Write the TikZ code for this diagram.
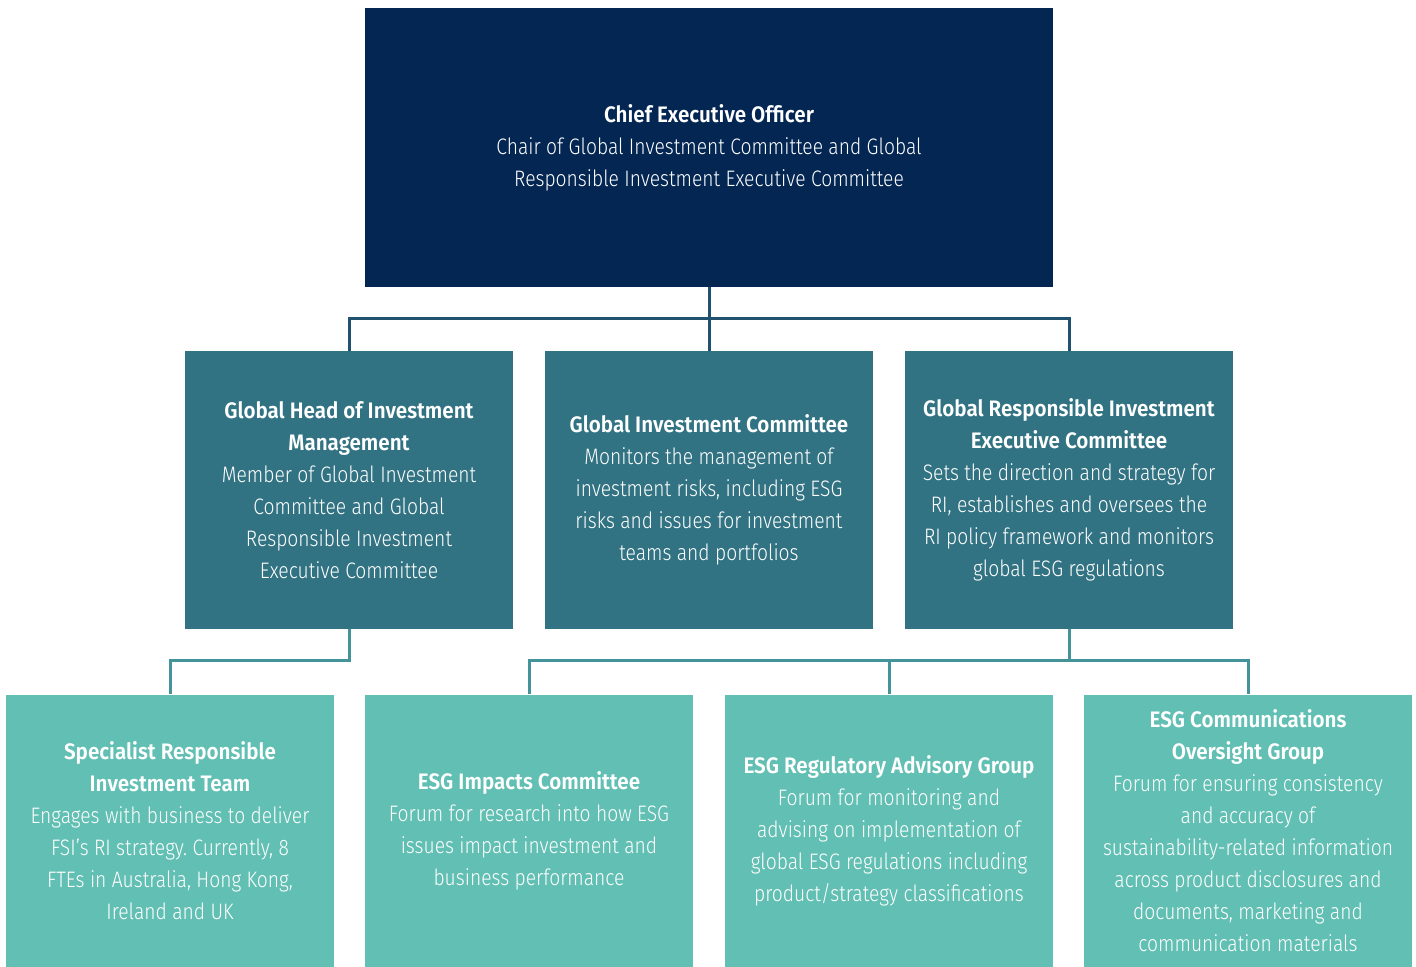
\documentclass[tikz,border=0pt]{standalone}
\usepackage{fontspec}
\setmainfont{Fira Sans}[
  UprightFont = * Light,
  BoldFont = * SemiBold,
  UprightFeatures = {FakeStretch = 0.86},
  BoldFeatures = {FakeStretch = 0.92}]
\frenchspacing
\definecolor{navy}{RGB}{3,38,83}
\definecolor{midteal}{RGB}{50,115,131}
\definecolor{lightteal}{RGB}{98,191,179}
\definecolor{topline}{RGB}{32,82,112}
\definecolor{lowline}{RGB}{66,148,154}
\tikzset{
  box/.style={inner sep=0pt, align=center, text=white,
    font=\fontsize{11.2}{16}\selectfont},
  ceobox/.style={box, fill=navy, minimum width=344pt, minimum height=139.5pt},
  midbox/.style={box, fill=midteal, minimum width=164pt, minimum height=139pt},
  lowbox/.style={box, fill=lightteal, minimum width=164pt, minimum height=136.5pt},
  conn/.style={line width=1.5pt},
}
\begin{document}
\begin{tikzpicture}[x=0.5pt,y=-0.5pt]
\useasboundingbox (0,0) rectangle (1416,966);

% top level
\node[ceobox] (ceo) at (709,147.5) {\textbf{Chief Executive Officer}\\
  Chair of Global Investment Committee and Global\\
  Responsible Investment Executive Committee};

% second level
\node[midbox] (gh) at (349,490) {\textbf{Global Head of Investment}\\
  \textbf{Management}\\
  Member of Global Investment\\
  Committee and Global\\
  Responsible Investment\\
  Executive Committee};
\node[midbox] (gic) at (709,490) {\textbf{Global Investment Committee}\\
  Monitors the management of\\
  investment risks, including ESG\\
  risks and issues for investment\\
  teams and portfolios};
\node[midbox] (grie) at (1069,490) {\textbf{Global Responsible Investment}\\
  \textbf{Executive Committee}\\
  Sets the direction and strategy for\\
  RI, establishes and oversees the\\
  RI policy framework and monitors\\
  global ESG regulations};

% third level
\node[lowbox] (sri) at (170,831) {\textbf{Specialist Responsible}\\
  \textbf{Investment Team}\\
  Engages with business to deliver\\
  FSI’s RI strategy. Currently, 8\\
  FTEs in Australia, Hong Kong,\\
  Ireland and UK};
\node[lowbox] (eic) at (529,831) {\textbf{ESG Impacts Committee}\\
  Forum for research into how ESG\\
  issues impact investment and\\
  business performance};
\node[lowbox] (erag) at (889,831) {\textbf{ESG Regulatory Advisory Group}\\
  Forum for monitoring and\\
  advising on implementation of\\
  global ESG regulations including\\
  product/strategy classifications};
\node[lowbox] (ecog) at (1248,831) {\textbf{ESG Communications}\\
  \textbf{Oversight Group}\\
  Forum for ensuring consistency\\
  and accuracy of\\
  sustainability-related information\\
  across product disclosures and\\
  documents, marketing and\\
  communication materials};

% bus junctions
\coordinate (bus1) at (709,318);
\coordinate (bus2a) at (349,660);
\coordinate (bus2b) at (1069,660);

% connectors, first to second level
\draw[conn, topline] (ceo.south) -- (bus1);
\draw[conn, topline] (gh.north) |- (bus1) -| (grie.north);
\draw[conn, topline] (gic.north) -- (bus1);

% connectors, second to third level
\draw[conn, lowline] (gh.south) -- (bus2a) -| (sri.north);
\draw[conn, lowline] (grie.south) -- (bus2b);
\draw[conn, lowline] (eic.north) |- (bus2b) -| (ecog.north);
\draw[conn, lowline] (erag.north) -- (erag.north |- bus2b);
\end{tikzpicture}
\end{document}
